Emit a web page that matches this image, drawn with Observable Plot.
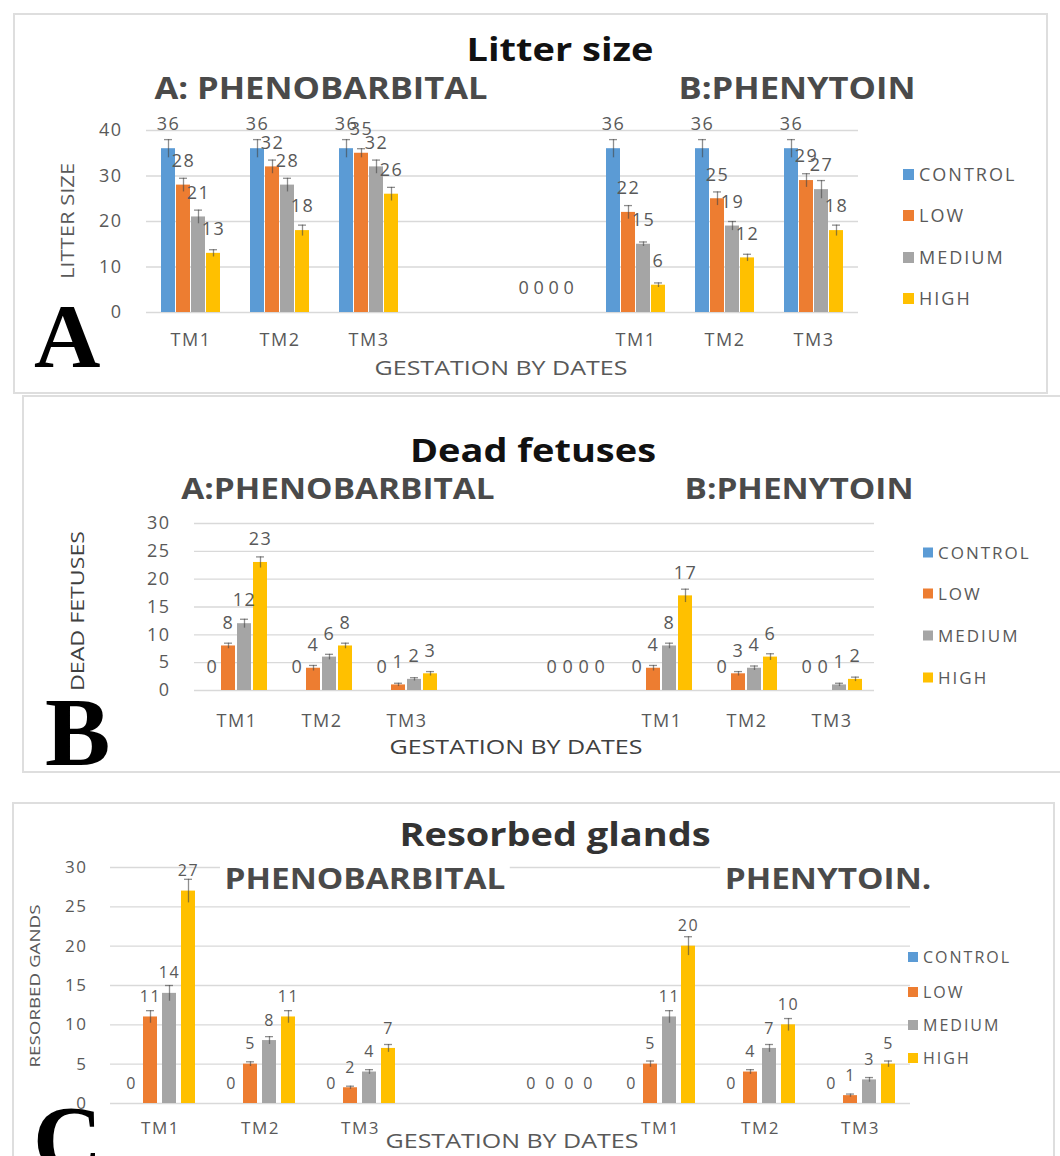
<!DOCTYPE html>
<html>
<head>
<meta charset="utf-8">
<script src="https://cdn.jsdelivr.net/npm/d3@7"></script>
<script src="https://cdn.jsdelivr.net/npm/@observablehq/plot@0.6"></script>
<style>
  html, body { margin: 0; padding: 0; background: #fff; }
  #root { position: relative; width: 1060px; height: 1156px; overflow: hidden; font-family: "Open Sans", sans-serif; }
  .box { position: absolute; border: 2px solid #dedede; box-sizing: border-box; }
  .t { position: absolute; white-space: nowrap; line-height: 1; transform: translate(-50%, -50%) scaleX(1.15); }
  .title { font-weight: 700; font-size: 33px; color: #111; }
  .sub { font-weight: 700; font-size: 29px; color: #4a4a4a; background: #fff; padding: 0 4px; }
  .axt { font-size: 20px; color: #595959; transform: translate(-50%, -50%) scaleX(1.25); }
  .yt { position: absolute; white-space: nowrap; line-height: 1; font-size: 18px; color: #595959; }
  .big { position: absolute; font-family: "Liberation Serif", "Times New Roman", serif; font-weight: 700; line-height: 1; color: #000; }
  .leg { position: absolute; white-space: nowrap; line-height: 1; color: #595959; display: flex; align-items: center; transform: translateY(-50%); }
  .leg span.sw { display: inline-block; margin-right: 5px; }
  .plot { position: absolute; left: 0; }
</style>
</head>
<body>
<div id="root"></div>
<script>
// ---------- data ----------
const series = ["CONTROL", "LOW", "MEDIUM", "HIGH"];
const seriesColors = ["#5B9BD5", "#ED7D31", "#A5A5A5", "#FFC000"];
const groupKeys = ["g1", "g2", "g3", "g4", "g5", "g6", "g7", "g8"];
const groupLabels = ["TM1", "TM2", "TM3", "", "", "TM1", "TM2", "TM3"];

// A: Litter size (null = empty group)
const litterControl = [36, 36, 36, null, 0, 36, 36, 36];
const litterLow     = [28, 32, 35, null, 0, 22, 25, 29];
const litterMedium  = [21, 28, 32, null, 0, 15, 19, 27];
const litterHigh    = [13, 18, 26, null, 0, 6, 12, 18];
const litterErrControl = [2, 2, 2, null, 0, 2, 2, 2];
const litterErrLow     = [1.5, 1.5, 1, null, 0, 1.5, 1.5, 1.5];
const litterErrMedium  = [1.5, 1.5, 1.5, null, 0, 0.5, 1, 2];
const litterErrHigh    = [0.8, 1.2, 1.5, null, 0, 0.5, 0.8, 1.2];
const litterTicks = [0, 10, 20, 30, 40];

// B: Dead fetuses
const deadControl = [0, 0, 0, null, 0, 0, 0, 0];
const deadLow     = [8, 4, 1, null, 0, 4, 3, 0];
const deadMedium  = [12, 6, 2, null, 0, 8, 4, 1];
const deadHigh    = [23, 8, 3, null, 0, 17, 6, 2];
const deadErrControl = [0, 0, 0, null, 0, 0, 0, 0];
const deadErrLow     = [0.5, 0.5, 0.3, null, 0, 0.5, 0.4, 0];
const deadErrMedium  = [0.8, 0.5, 0.3, null, 0, 0.5, 0.4, 0.3];
const deadErrHigh    = [1, 0.5, 0.4, null, 0, 1.2, 0.6, 0.4];
const deadTicks = [0, 5, 10, 15, 20, 25, 30];

// C: Resorbed glands
const resControl = [0, 0, 0, null, 0, 0, 0, 0];
const resLow     = [11, 5, 2, null, 0, 5, 4, 1];
const resMedium  = [14, 8, 4, null, 0, 11, 7, 3];
const resHigh    = [27, 11, 7, null, 0, 20, 10, 5];
const resErrControl = [0, 0, 0, null, 0, 0, 0, 0];
const resErrLow     = [0.8, 0.3, 0.2, null, 0, 0.4, 0.3, 0.2];
const resErrMedium  = [1, 0.5, 0.3, null, 0, 0.8, 0.5, 0.3];
const resErrHigh    = [1.5, 0.8, 0.5, null, 0, 1.2, 0.8, 0.4];
const resTicks = [0, 5, 10, 15, 20, 25, 30];

// ---------- helpers ----------
function rowsFrom(vals, errs) {
  const rows = [];
  groupKeys.forEach((g, i) => {
    series.forEach((s, j) => {
      const v = vals[j][i];
      if (v == null) return;
      rows.push({ g, s, v, e: errs[j][i] });
    });
  });
  return rows;
}
const labelOf = Object.fromEntries(groupKeys.map((k, i) => [k, groupLabels[i]]));
const root = document.getElementById("root");

function addDiv(cls, text, styles) {
  const d = document.createElement("div");
  d.className = cls;
  if (text != null) d.textContent = text;
  Object.assign(d.style, styles);
  root.appendChild(d);
  return d;
}
function yTitle(text, x, y, fs, sx, color) {
  addDiv("yt", text, { left: x + "px", top: y + "px", fontSize: fs + "px", color: color || "#595959",
    transform: `translate(-50%, -50%) rotate(-90deg) scaleX(${sx})` });
}

function makePanel(cfg) {
  const rows = rowsFrom(cfg.vals, cfg.errs);
  const gridRows = groupKeys.flatMap(g => cfg.ticks.map(t => ({ g, t })));
  const chart = Plot.plot({
    width: 1060,
    height: cfg.height,
    marginLeft: cfg.ml,
    marginRight: cfg.mr,
    marginTop: cfg.mt,
    marginBottom: cfg.mb,
    style: { background: "transparent", fontFamily: "Open Sans, sans-serif", fontSize: cfg.tickFont + "px", color: "#595959", letterSpacing: "1.5px" },
    fx: { domain: groupKeys, padding: 0, label: null, tickSize: 0, tickPadding: cfg.fxPad, tickFormat: d => labelOf[d], axis: "bottom" },
    x: { domain: series, axis: null, paddingInner: cfg.pi, paddingOuter: cfg.po },
    y: { domain: [cfg.ticks[0], cfg.ticks[cfg.ticks.length - 1]], ticks: cfg.ticks, label: null, tickSize: 0, tickPadding: cfg.yPad },
    color: { domain: series, range: seriesColors },
    marks: [
      Plot.ruleY(gridRows, { fx: "g", y: "t", stroke: "#d9d9d9", strokeWidth: 1.4 }),
      Plot.barY(rows, { fx: "g", x: "s", y: "v", fill: "s" }),
      Plot.ruleX(rows.filter(d => d.e > 0), { fx: "g", x: "s", y1: d => d.v - d.e, y2: d => d.v + d.e, stroke: "#444", strokeOpacity: 0.6, strokeWidth: 1.3 }),
      Plot.tickY(rows.filter(d => d.e > 0), { fx: "g", x: "s", y: d => d.v + d.e, stroke: "#444", strokeOpacity: 0.6, strokeWidth: 1.3, insetLeft: 3, insetRight: 3 }),
      Plot.text(rows, { fx: "g", x: "s", y: "v", text: d => String(d.v), dy: cfg.labelDy, fill: "#595959", fontSize: cfg.labelFont })
    ]
  });
  chart.classList.add("plot");
  chart.style.top = cfg.top + "px";
  root.appendChild(chart);
}

// ---------- boxes ----------
addDiv("box", null, { left: "13px", top: "13px", width: "1035px", height: "381px" });
addDiv("box", null, { left: "22px", top: "395px", width: "1050px", height: "378px" });
addDiv("box", null, { left: "12px", top: "802px", width: "1043px", height: "400px" });

// ---------- Panel A ----------
makePanel({
  vals: [litterControl, litterLow, litterMedium, litterHigh],
  errs: [litterErrControl, litterErrLow, litterErrMedium, litterErrHigh],
  ticks: litterTicks, top: 100, height: 260, ml: 143, mr: 200, mt: 30, mb: 48,
  fxPad: 21, yPad: 24, pi: 0.1, po: 0.94, labelDy: -24, labelFont: 18, tickFont: 18
});
addDiv("t title", "Litter size", { left: "560px", top: "48px" });
addDiv("t sub", "A: PHENOBARBITAL", { left: "321px", top: "88px", fontSize: "30px" });
addDiv("t sub", "B:PHENYTOIN", { left: "797px", top: "88px", fontSize: "30px" });
addDiv("t axt", "GESTATION BY DATES", { left: "501px", top: "368px" });
yTitle("LITTER SIZE", 67, 221, 18, 1.22);
addDiv("big", "A", { left: "34px", top: "290px", fontSize: "92px" });

// ---------- Panel B ----------
makePanel({
  vals: [deadControl, deadLow, deadMedium, deadHigh],
  errs: [deadErrControl, deadErrLow, deadErrMedium, deadErrHigh],
  ticks: deadTicks, top: 500, height: 250, ml: 190, mr: 183, mt: 23, mb: 60,
  fxPad: 24, yPad: 24, pi: 0.1, po: 0.65, labelDy: -23, labelFont: 18, tickFont: 18
});
addDiv("t title", "Dead fetuses", { left: "533px", top: "449px" });
addDiv("t sub", "A:PHENOBARBITAL", { left: "338px", top: "487px" });
addDiv("t sub", "B:PHENYTOIN", { left: "799px", top: "487px" });
addDiv("t axt", "GESTATION BY DATES", { left: "516px", top: "747px", color: "#404040" });
yTitle("DEAD FETUSES", 77, 611, 19, 1.22, "#404040");
addDiv("big", "B", { left: "45px", top: "683px", fontSize: "98px" });

// ---------- Panel C ----------
makePanel({
  vals: [resControl, resLow, resMedium, resHigh],
  errs: [resErrControl, resErrLow, resErrMedium, resErrHigh],
  ticks: resTicks, top: 840, height: 316, ml: 107, mr: 147, mt: 27, mb: 53,
  fxPad: 18, yPad: 23, pi: 0.25, po: 0.71, labelDy: -20, labelFont: 16, tickFont: 17
});
addDiv("t title", "Resorbed glands", { left: "555px", top: "833px", color: "#333" });
addDiv("t sub", "PHENOBARBITAL", { left: "365px", top: "877px" });
addDiv("t sub", "PHENYTOIN.", { left: "828px", top: "877px" });
addDiv("t axt", "GESTATION BY DATES", { left: "512px", top: "1141px" });
yTitle("RESORBED GANDS", 34, 986, 15, 1.25);
addDiv("big", "C", { left: "33px", top: "1092px", fontSize: "96px" });

// ---------- legends ----------
function legend(x, ys, sw, fs, ls) {
  series.forEach((s, i) => {
    const d = addDiv("leg", null, { left: x + "px", top: ys[i] + "px", fontSize: fs + "px", letterSpacing: ls + "px" });
    const b = document.createElement("span");
    b.className = "sw";
    Object.assign(b.style, { width: sw + "px", height: sw + "px", background: seriesColors[i] });
    d.appendChild(b);
    d.appendChild(document.createTextNode(s));
  });
}
legend(903, [174, 215, 257, 298], 11, 18, 2);
legend(923, [552, 593, 635, 677], 10, 17, 2);
legend(908, [957, 992, 1025, 1058], 10, 16, 2);
</script>
</body>
</html>
